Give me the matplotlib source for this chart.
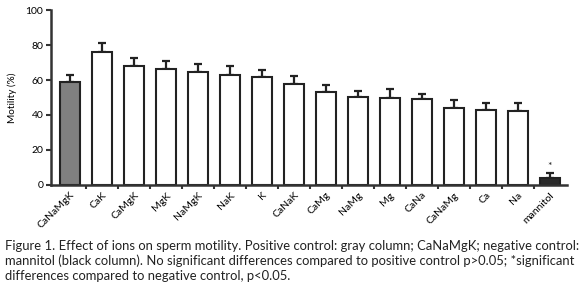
import numpy as np
import matplotlib.pyplot as plt

plt.rcParams['font.family'] = ['Lato', 'DejaVu Sans']

groups = ['CaNaMgK', 'CaK', 'CaMgK', 'MgK', 'NaMgK', 'NaK', 'K', 'CaNaK',
          'CaMg', 'NaMg', 'Mg', 'CaNa', 'CaNaMg', 'Ca', 'Na', 'mannitol']
motility = [58.7, 75.8, 67.8, 66.1, 64.4, 63.0, 61.9, 57.5,
            53.0, 50.5, 49.9, 49.0, 44.2, 42.7, 42.1, 3.8]
sem = [4.2, 5.2, 4.9, 4.9, 4.5, 5.2, 4.1, 5.0,
       4.0, 3.5, 5.1, 3.2, 4.2, 4.0, 4.6, 2.9]
colors = ['#808080'] + ['white'] * 14 + ['#2b2b2b']
yticks = [0, 20, 40, 60, 80, 100]

fig = plt.figure(figsize=(5.8, 2.95), dpi=100)
ax = fig.add_axes([0.088, 0.373, 0.89, 0.593])

x = np.arange(len(groups))
ax.bar(x, motility, width=0.63, color=colors, edgecolor='#222222', linewidth=1.5, zorder=2)
ax.errorbar(x, motility, yerr=[np.zeros(len(sem)), sem], fmt='none', ecolor='#222222',
            elinewidth=1.6, capsize=3.2, capthick=1.6, zorder=1)
ax.text(x[-1], motility[-1] + sem[-1] + 4, '*', ha='center', va='center', fontsize=7.5, color='#222222')

ax.set_xlim(-0.6, len(groups) - 0.45)
ax.set_ylim(0, 100)
ax.set_yticks(yticks)
ax.set_xticks(x)
ax.set_xticklabels(groups, rotation=45, ha='right', rotation_mode='anchor', fontsize=7.5)
ax.set_xticks(x[:-1] + 0.5, minor=True)
ax.tick_params(axis='x', which='major', length=0, pad=4)
ax.tick_params(axis='x', which='minor', length=3, width=1.5, color='#333333')
ax.tick_params(axis='y', length=3.5, width=1.5, color='#333333', labelsize=7.5, pad=2)
ax.set_ylabel('Motility (%)', fontsize=7.2, labelpad=6)
for s in ['top', 'right']:
    ax.spines[s].set_visible(False)
for s in ['left', 'bottom']:
    ax.spines[s].set_linewidth(1.8)
    ax.spines[s].set_color('#333333')

caption = ('Figure 1. Effect of ions on sperm motility. Positive control: gray column; CaNaMgK; negative control:\n'
           'mannitol (black column). No significant differences compared to positive control p>0.05; *significant\n'
           'differences compared to negative control, p<0.05.')
fig.text(0.008, 0.188, caption, ha='left', va='top', fontsize=9.35, linespacing=1.28, color='#222222')

fig.savefig('out.png', dpi=100)
